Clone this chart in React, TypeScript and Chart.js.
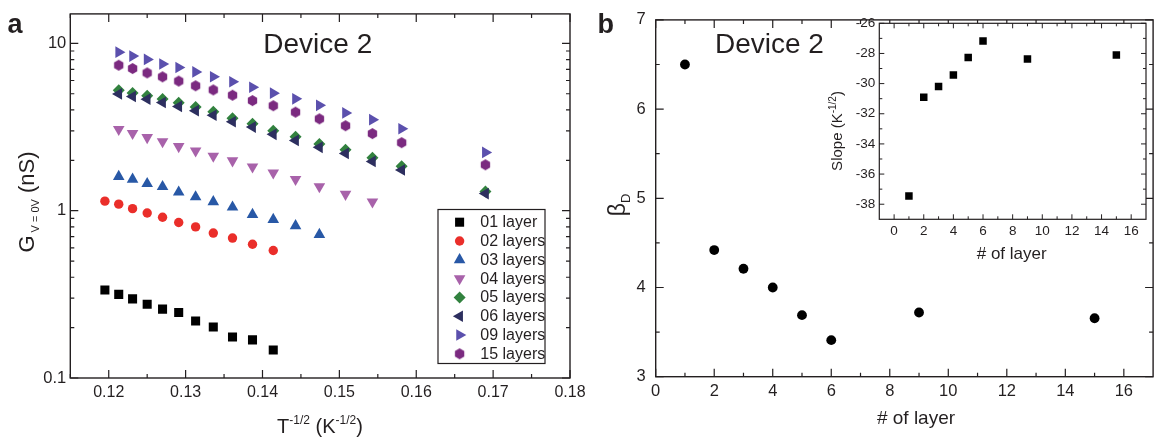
import React, { useEffect, useRef } from 'react';
import { Chart, registerables } from 'chart.js';

Chart.register(...registerables);

const FONT = '"Liberation Sans", Arial, Helvetica, sans-serif';
const INK = '#231f20';

// ---------- Panel a data ----------
const xInvSqrtT = [0.1195, 0.1213, 0.1231, 0.125, 0.127, 0.1291, 0.1313, 0.1336, 0.1361, 0.1387, 0.1414, 0.1443, 0.1474, 0.1508, 0.1543, 0.1581, 0.169];
const layerLabels = ['01 layer', '02 layers', '03 layers', '04 layers', '05 layers', '06 layers', '09 layers', '15 layers'];
const seriesStart = [0, 0, 1, 1, 1, 1, 1, 1];
const g01 = [0.336, 0.316, 0.297, 0.276, 0.258, 0.246, 0.219, 0.202, 0.176, 0.169, 0.147];
const g02 = [1.14, 1.094, 1.028, 0.968, 0.913, 0.85, 0.8, 0.735, 0.686, 0.63, 0.578];
const g03 = [1.6, 1.54, 1.45, 1.39, 1.29, 1.21, 1.13, 1.048, 0.948, 0.885, 0.812, 0.72];
const g04 = [3.06, 2.9, 2.74, 2.59, 2.42, 2.28, 2.12, 1.99, 1.83, 1.685, 1.54, 1.395, 1.255, 1.13];
const g05 = [5.24, 5.05, 4.87, 4.65, 4.41, 4.16, 3.9, 3.57, 3.31, 3.0, 2.77, 2.5, 2.31, 2.07, 1.84, 1.3];
const g06 = [4.99, 4.81, 4.64, 4.43, 4.2, 3.96, 3.72, 3.4, 3.16, 2.86, 2.63, 2.39, 2.2, 1.97, 1.75, 1.265];
const g09 = [8.86, 8.39, 8.02, 7.53, 7.17, 6.75, 6.31, 5.9, 5.47, 5.04, 4.66, 4.26, 3.84, 3.5, 3.09, 2.23];
const g15 = [7.4, 7.07, 6.66, 6.31, 5.95, 5.58, 5.27, 4.9, 4.55, 4.24, 3.88, 3.54, 3.22, 2.89, 2.55, 1.88];
const seriesG = [g01, g02, g03, g04, g05, g06, g09, g15];

const xTicksA = [0.12, 0.13, 0.14, 0.15, 0.16, 0.17, 0.18];
const xTickLabelsA = ['0.12', '0.13', '0.14', '0.15', '0.16', '0.17', '0.18'];
const xMinorA = [0.115, 0.125, 0.135, 0.145, 0.155, 0.165, 0.175];
const yTicksA = [0.1, 1, 10];
const yTickLabelsA = ['0.1', '1', '10'];
const yMinorA = [0.2, 0.3, 0.4, 0.5, 0.6, 0.7, 0.8, 0.9, 2, 3, 4, 5, 6, 7, 8, 9];

// ---------- Panel b data ----------
const layers = [1, 2, 3, 4, 5, 6, 9, 15];
const betaD = [6.5, 4.42, 4.21, 4.0, 3.69, 3.41, 3.72, 3.655];
const slope = [-37.45, -30.91, -30.19, -29.43, -28.27, -27.17, -28.36, -28.11];

const xTicksB = [0, 2, 4, 6, 8, 10, 12, 14, 16];
const xTickLabelsB = ['0', '2', '4', '6', '8', '10', '12', '14', '16'];
const xMinorB = [1, 3, 5, 7, 9, 11, 13, 15];
const yTicksB = [3, 4, 5, 6, 7];
const yTickLabelsB = ['3', '4', '5', '6', '7'];
const yMinorB = [3.5, 4.5, 5.5, 6.5];

const xTicksC = [0, 2, 4, 6, 8, 10, 12, 14, 16];
const xTickLabelsC = ['0', '2', '4', '6', '8', '10', '12', '14', '16'];
const xMinorC = [1, 3, 5, 7, 9, 11, 13, 15];
const yTicksC = [-38, -36, -34, -32, -30, -28, -26];
const yTickLabelsC = ['-38', '-36', '-34', '-32', '-30', '-28', '-26'];
const yMinorC = [-37, -35, -33, -31, -29, -27];

// ---------- styles ----------
const seriesColors = ['#000000', '#ea2e2a', '#2858a6', '#a862aa', '#32823f', '#2d2f5f', '#5b50ad', '#7b2a80'];
const seriesShapes = ['rect', 'circle', 'triangle', 'triangle', 'rectRot', 'triangle', 'triangle', 'hex'];
const seriesRot = [0, 0, 0, 180, 0, -90, 90, 0];
const seriesRadius = [6.4, 4.7, 6.7, 6.7, 6.0, 6.7, 6.7, 5.4];

type Seg = { t: string; size: number; dy?: number; bold?: boolean };
type TextItem = { segs: Seg[]; x: number; y: number; rot?: number; align?: 'left' | 'center' };

function drawRich(ctx: CanvasRenderingContext2D, item: TextItem) {
  ctx.save();
  ctx.fillStyle = INK;
  ctx.textBaseline = 'alphabetic';
  ctx.textAlign = 'left';
  ctx.translate(item.x, item.y);
  if (item.rot) ctx.rotate(item.rot);
  let total = 0;
  const widths = item.segs.map((s) => {
    ctx.font = `${s.bold ? 'bold ' : ''}${s.size}px ${FONT}`;
    const w = ctx.measureText(s.t).width;
    total += w;
    return w;
  });
  let cx = item.align === 'left' ? 0 : -total / 2;
  item.segs.forEach((s, i) => {
    ctx.font = `${s.bold ? 'bold ' : ''}${s.size}px ${FONT}`;
    ctx.fillText(s.t, cx, s.dy || 0);
    cx += widths[i];
  });
  ctx.restore();
}

function textPlugin(id: string, items: TextItem[]) {
  return {
    id,
    afterDraw(chart: any) {
      items.forEach((it) => drawRich(chart.ctx, it));
    },
  };
}

function framePlugin(id: string, cfg: any) {
  return {
    id,
    beforeDatasetsDraw(chart: any) {
      if (!cfg.fillWhite) return;
      const a = chart.chartArea;
      const ctx = chart.ctx;
      ctx.save();
      ctx.fillStyle = '#ffffff';
      ctx.fillRect(a.left, a.top, a.right - a.left, a.bottom - a.top);
      ctx.restore();
    },
    afterDatasetsDraw(chart: any) {
      const { ctx, chartArea: a, scales } = chart;
      const xs = scales.x;
      const ys = scales.y;
      ctx.save();
      ctx.strokeStyle = INK;
      ctx.lineWidth = cfg.lw;
      ctx.beginPath();
      const xt = (vals: number[], len: number) => {
        vals.forEach((v) => {
          const p = xs.getPixelForValue(v);
          ctx.moveTo(p, a.bottom);
          ctx.lineTo(p, a.bottom - len);
          ctx.moveTo(p, a.top);
          ctx.lineTo(p, a.top + len);
        });
      };
      const yt = (vals: number[], len: number) => {
        vals.forEach((v) => {
          const p = ys.getPixelForValue(v);
          ctx.moveTo(a.left, p);
          ctx.lineTo(a.left + len, p);
          ctx.moveTo(a.right, p);
          ctx.lineTo(a.right - len, p);
        });
      };
      xt(cfg.xMajor, cfg.major);
      xt(cfg.xMinor, cfg.minor);
      yt(cfg.yMajor, cfg.major);
      yt(cfg.yMinor, cfg.minor);
      ctx.stroke();
      ctx.lineWidth = cfg.frameLw;
      ctx.strokeRect(a.left, a.top, a.right - a.left, a.bottom - a.top);
      ctx.restore();
    },
  };
}

function drawMarker(ctx: CanvasRenderingContext2D, shape: any, rotDeg: number, r: number, color: string, x: number, y: number) {
  ctx.save();
  ctx.translate(x, y);
  ctx.fillStyle = color;
  if (shape instanceof HTMLCanvasElement) {
    ctx.drawImage(shape, -shape.width / 2, -shape.height / 2);
    ctx.restore();
    return;
  }
  const rad = (rotDeg * Math.PI) / 180;
  ctx.beginPath();
  if (shape === 'circle') {
    ctx.arc(0, 0, r, 0, Math.PI * 2);
  } else if (shape === 'rect') {
    const s = r * Math.SQRT1_2;
    ctx.rect(-s, -s, 2 * s, 2 * s);
  } else if (shape === 'rectRot') {
    ctx.moveTo(0, -r);
    ctx.lineTo(r, 0);
    ctx.lineTo(0, r);
    ctx.lineTo(-r, 0);
  } else {
    for (let k = 0; k < 3; k++) {
      const ang = rad + (k * 2 * Math.PI) / 3;
      const px = Math.sin(ang) * r;
      const py = -Math.cos(ang) * r;
      if (k === 0) ctx.moveTo(px, py);
      else ctx.lineTo(px, py);
    }
  }
  ctx.closePath();
  ctx.fill();
  ctx.restore();
}

function legendPlugin(styles: any[]) {
  return {
    id: 'boxLegend',
    afterDraw(chart: any) {
      const { ctx, chartArea: a } = chart;
      const w = 107;
      const h = 154;
      const right = a.right - 25;
      const bottom = a.bottom - 14.5;
      const left = right - w;
      const top = bottom - h;
      ctx.save();
      ctx.fillStyle = '#ffffff';
      ctx.fillRect(left, top, w, h);
      ctx.strokeStyle = INK;
      ctx.lineWidth = 1.2;
      ctx.strokeRect(left, top, w, h);
      ctx.font = `16px ${FONT}`;
      ctx.textBaseline = 'middle';
      ctx.textAlign = 'left';
      chart.data.datasets.forEach((ds: any, i: number) => {
        const cy = top + 12.7 + i * 18.8;
        drawMarker(ctx, styles[i], seriesRot[i], seriesRadius[i], seriesColors[i], left + 21.6, cy);
        ctx.fillStyle = INK;
        ctx.fillText(ds.label, left + 42.3, cy + 0.5);
      });
      ctx.restore();
    },
  };
}

function makeHex(color: string, r: number) {
  const s = Math.ceil(r * 2 + 2);
  const c = document.createElement('canvas');
  c.width = s;
  c.height = s;
  const g = c.getContext('2d') as CanvasRenderingContext2D;
  g.fillStyle = color;
  g.beginPath();
  for (let k = 0; k < 6; k++) {
    const ang = -Math.PI / 2 + (k * Math.PI) / 3;
    const px = s / 2 + r * Math.cos(ang);
    const py = s / 2 + r * Math.sin(ang);
    if (k === 0) g.moveTo(px, py);
    else g.lineTo(px, py);
  }
  g.closePath();
  g.fill();
  return c;
}

const tickFont = (size: number) => ({ family: FONT, size, lineHeight: 1.2 });

function axis(opts: any) {
  return {
    type: opts.type || 'linear',
    min: opts.min,
    max: opts.max,
    grid: { display: false, drawTicks: false },
    border: { display: false },
    afterBuildTicks: (s: any) => {
      s.ticks = opts.ticks.map((v: number) => ({ value: v }));
    },
    afterFit: (s: any) => {
      if (opts.width !== undefined) s.width = opts.width;
      if (opts.height !== undefined) s.height = opts.height;
    },
    ticks: {
      font: tickFont(opts.font),
      color: INK,
      padding: opts.padding,
      maxRotation: 0,
      autoSkip: false,
      callback: (_v: any, i: number) => opts.labels[i],
    },
  };
}

export default function App() {
  const refA = useRef<HTMLCanvasElement>(null);
  const refB = useRef<HTMLCanvasElement>(null);
  const refC = useRef<HTMLCanvasElement>(null);

  useEffect(() => {
    const hex = makeHex(seriesColors[7], seriesRadius[7]);
    const styles = seriesShapes.map((s) => (s === 'hex' ? hex : s));

    const datasetsA = seriesG.map((g, si) => ({
      label: layerLabels[si],
      data: g.map((v, i) => ({ x: xInvSqrtT[i + seriesStart[si]], y: v })),
      pointStyle: styles[si],
      pointRotation: seriesRot[si],
      pointRadius: seriesRadius[si],
      pointBackgroundColor: seriesColors[si],
      backgroundColor: seriesColors[si],
      borderColor: seriesColors[si],
      pointBorderWidth: 0,
      showLine: false,
      order: si === 5 ? -1 : 0,
    }));

    const common = {
      responsive: false,
      animation: false as const,
      events: [] as any[],
      plugins: { legend: { display: false }, tooltip: { enabled: false } },
    };

    const chartA = new Chart(refA.current as HTMLCanvasElement, {
      type: 'scatter',
      data: { datasets: datasetsA as any },
      options: {
        ...common,
        layout: { padding: { left: 0, top: 8, right: 30, bottom: 0 } },
        scales: {
          x: axis({ min: 0.115, max: 0.18, ticks: xTicksA, labels: xTickLabelsA, font: 16, padding: 5, height: 63 }) as any,
          y: axis({ type: 'logarithmic', min: 0.1, max: 15, ticks: yTicksA, labels: yTickLabelsA, font: 16.5, padding: 4, width: 70.3 }) as any,
        },
      },
      plugins: [
        framePlugin('frameA', { xMajor: xTicksA, xMinor: xMinorA, yMajor: yTicksA, yMinor: yMinorA, major: 8, minor: 4, lw: 1.2, frameLw: 1.4 }),
        legendPlugin(styles),
        textPlugin('textA', [
          { segs: [{ t: 'a', size: 27, bold: true }], x: 7.5, y: 33.3, align: 'left' },
          { segs: [{ t: 'Device 2', size: 28 }], x: 263.3, y: 53.3, align: 'left' },
          { segs: [{ t: 'T', size: 20 }, { t: '-1/2', size: 12, dy: -9 }, { t: ' (K', size: 20 }, { t: '-1/2', size: 12, dy: -9 }, { t: ')', size: 20 }], x: 320, y: 433, align: 'center' },
          { segs: [{ t: 'G', size: 22 }, { t: ' V = 0V', size: 11, dy: 5 }, { t: ' (nS)', size: 22 }], x: 33.5, y: 202, rot: -Math.PI / 2, align: 'center' },
        ]),
      ],
    } as any);

    const chartB = new Chart(refB.current as HTMLCanvasElement, {
      type: 'scatter',
      data: {
        datasets: [
          {
            label: 'beta_D',
            data: layers.map((l, i) => ({ x: l, y: betaD[i] })),
            pointStyle: 'circle',
            pointRadius: 4.9,
            pointBackgroundColor: '#000',
            pointBorderWidth: 0,
            showLine: false,
          },
        ],
      },
      options: {
        ...common,
        layout: { padding: { left: 0, top: 8.3, right: 3, bottom: 0 } },
        scales: {
          x: axis({ min: 0, max: 17, ticks: xTicksB, labels: xTickLabelsB, font: 16.5, padding: 5, height: 64.3 }) as any,
          y: axis({ min: 3, max: 7, ticks: yTicksB, labels: yTickLabelsB, font: 16.5, padding: 10, width: 75.7 }) as any,
        },
      },
      plugins: [
        framePlugin('frameB', { xMajor: xTicksB, xMinor: xMinorB, yMajor: yTicksB, yMinor: yMinorB, major: 8, minor: 4, lw: 1.2, frameLw: 1.4 }),
        textPlugin('textB', [
          { segs: [{ t: 'b', size: 27, bold: true }], x: 17.5, y: 33.3, align: 'left' },
          { segs: [{ t: 'Device 2', size: 28 }], x: 135, y: 53.3, align: 'left' },
          { segs: [{ t: '# of layer', size: 19 }], x: 336, y: 424, align: 'center' },
          { segs: [{ t: 'β', size: 23 }, { t: 'D', size: 13, dy: 5 }], x: 45, y: 205, rot: -Math.PI / 2, align: 'center' },
        ]),
      ],
    } as any);

    const chartC = new Chart(refC.current as HTMLCanvasElement, {
      type: 'scatter',
      data: {
        datasets: [
          {
            label: 'slope',
            data: layers.map((l, i) => ({ x: l, y: slope[i] })),
            pointStyle: 'rect',
            pointRadius: 5.3,
            pointBackgroundColor: '#000',
            pointBorderWidth: 0,
            showLine: false,
          },
        ],
      },
      options: {
        ...common,
        layout: { padding: { left: 0, top: 23.3, right: 12, bottom: 0 } },
        scales: {
          x: axis({ min: -1, max: 17, ticks: xTicksC, labels: xTickLabelsC, font: 13.5, padding: 4, height: 55.7 }) as any,
          y: axis({ min: -39, max: -26, ticks: yTicksC, labels: yTickLabelsC, font: 13.5, padding: 4, width: 59.3 }) as any,
        },
      },
      plugins: [
        framePlugin('frameC', { xMajor: xTicksC, xMinor: xMinorC, yMajor: yTicksC, yMinor: yMinorC, major: 5, minor: 3, lw: 1, frameLw: 1.2, fillWhite: true }),
        textPlugin('textC', [
          { segs: [{ t: '# of layer', size: 17 }], x: 191.7, y: 259, align: 'center' },
          { segs: [{ t: 'Slope (K', size: 15 }, { t: '-1/2', size: 10, dy: -6 }, { t: ')', size: 15 }], x: 22, y: 131, rot: -Math.PI / 2, align: 'center' },
        ]),
      ],
    } as any);

    return () => {
      chartA.destroy();
      chartB.destroy();
      chartC.destroy();
    };
  }, []);

  return (
    <div style={{ position: 'fixed', left: 0, top: 0, width: 1158, height: 441, background: '#ffffff', overflow: 'hidden' }}>
      <canvas ref={refA} width={600} height={441} style={{ position: 'absolute', left: 0, top: 0, display: 'block' }} />
      <canvas ref={refB} width={578} height={441} style={{ position: 'absolute', left: 580, top: 0, display: 'block' }} />
      <canvas ref={refC} width={338} height={275} style={{ position: 'absolute', left: 820, top: 0, display: 'block' }} />
    </div>
  );
}
